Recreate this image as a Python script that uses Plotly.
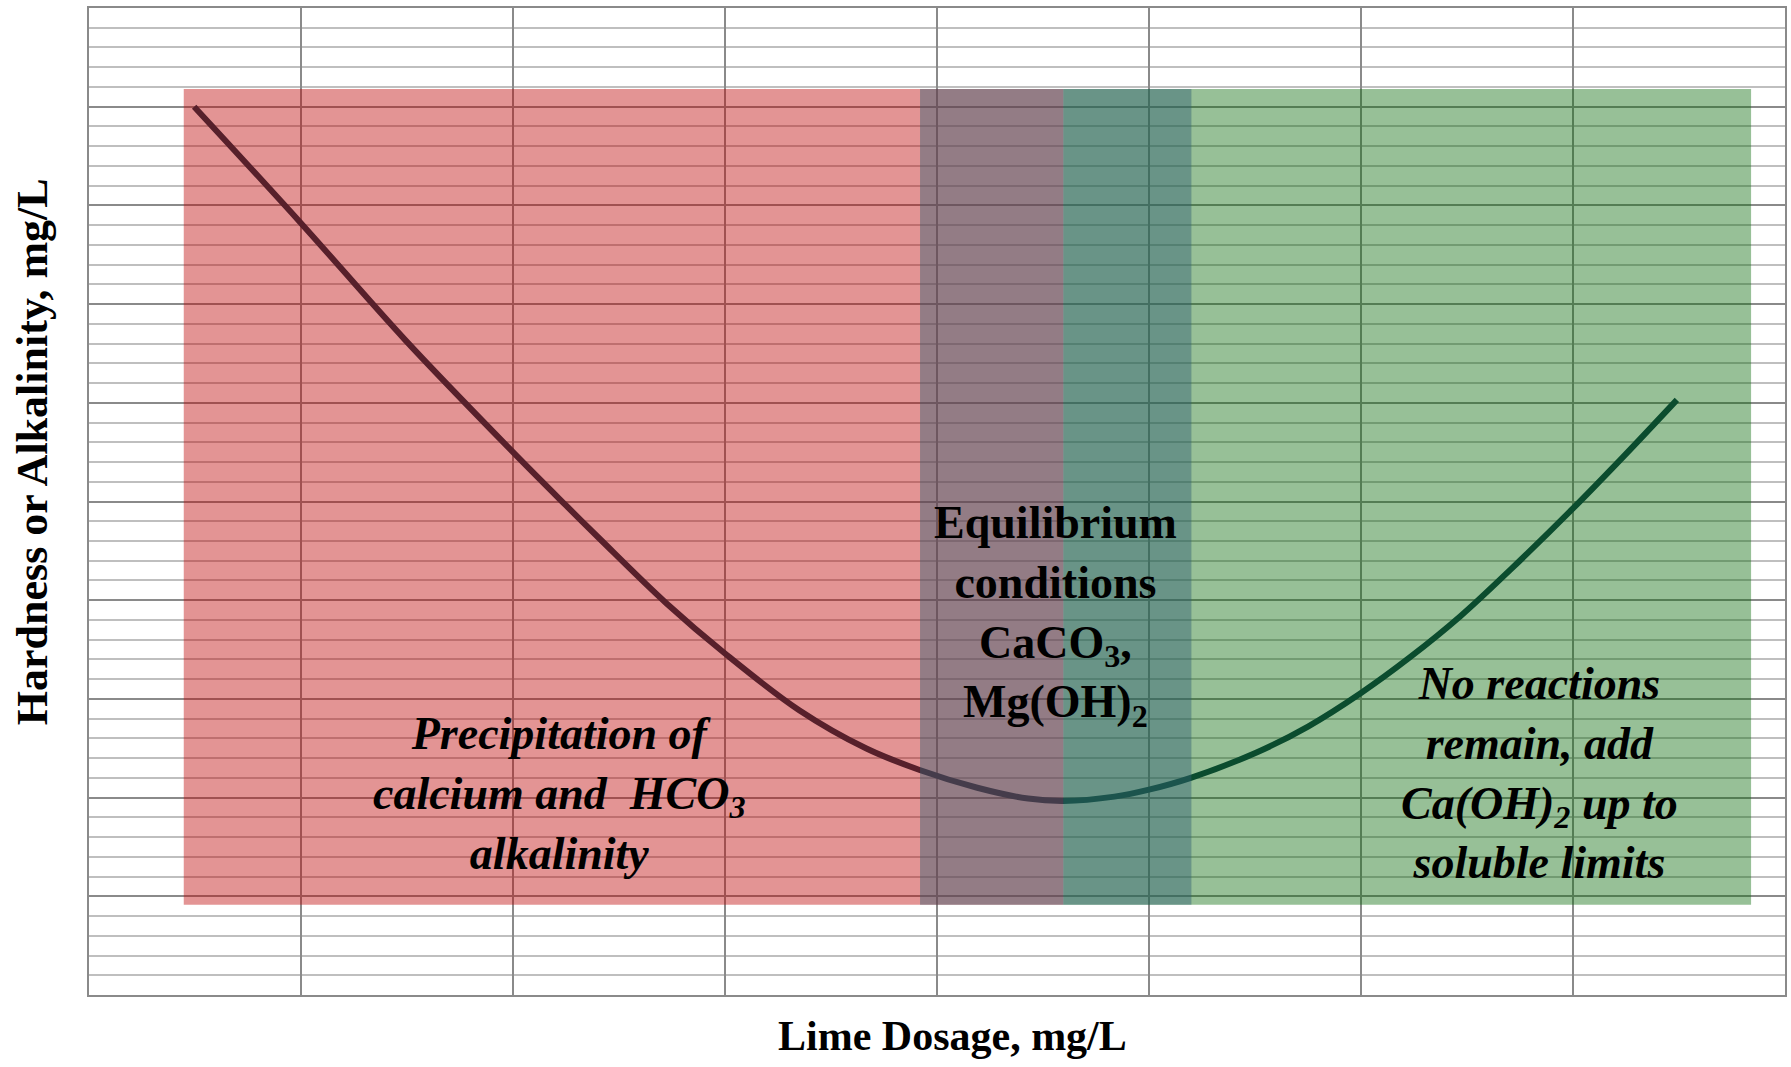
import plotly.graph_objects as go

# Curve: hardness/alkalinity vs lime dosage (grid units)
dose = [0.496, 1.0, 1.49, 2.0, 2.25, 2.41, 2.723, 3.0, 3.35, 3.667, 3.918, 4.19, 4.43, 4.596,
        4.837, 5.0, 5.197, 5.51, 5.75, 6.0, 6.23, 6.47, 6.71, 7.0, 7.24, 7.49]
hardness = [9.0, 7.82, 6.64, 5.50, 4.96, 4.62, 3.97, 3.46, 2.885, 2.497, 2.28, 2.10, 1.99, 1.966,
            2.01, 2.08, 2.20, 2.46, 2.72, 3.06, 3.42, 3.84, 4.32, 4.93, 5.46, 6.03]

# Regions (x0, x1, y0, y1)
region_names = ["precipitation", "no_reaction", "equilibrium"]
region_x0 = [0.447, 4.596, 3.92]
region_x1 = [4.596, 7.84, 5.2]
region_y0 = [0.915, 0.915, 0.915]
region_y1 = [9.18, 9.18, 9.18]
region_colors = ["rgba(190,6,6,0.43)", "rgba(15,108,15,0.43)", "rgba(49,95,115,0.45)"]

# Labels
label_texts = [
    "<i>Precipitation of<br>calcium and  HCO<sub>3</sub><br>alkalinity</i>",
    "Equilibrium<br>conditions<br>CaCO<sub>3</sub>,<br>Mg(OH)<sub>2</sub>",
    "<i>No reactions<br>remain, add<br>Ca(OH)<sub>2</sub> up to<br>soluble limits</i>",
]
label_x = [2.22, 4.56, 6.84]
label_y = [2.04, 3.85, 2.25]

x_title = "Lime Dosage, mg/L"
y_title = "Hardness or Alkalinity, mg/L"

FONT = "Liberation Serif"

fig = go.Figure()
fig.add_trace(go.Scatter(
    x=dose, y=hardness, mode="lines",
    line=dict(color="rgb(9,51,71)", width=6, shape="spline", smoothing=1.0),
    showlegend=False, hoverinfo="skip",
))

for x0, x1, y0, y1, c in zip(region_x0, region_x1, region_y0, region_y1, region_colors):
    fig.add_shape(type="rect", xref="x", yref="y", x0=x0, x1=x1, y0=y0, y1=y1,
                  fillcolor=c, line=dict(width=0), layer="above")

for t, x, y in zip(label_texts, label_x, label_y):
    fig.add_annotation(x=x, y=y, xref="x", yref="y", text="<b>" + t + "</b>",
                       showarrow=False, align="center",
                       font=dict(family=FONT, size=46, color="black"))

# Axis titles (placed as annotations for exact positioning)
fig.add_annotation(x=0.5094, y=-0.0415, xref="paper", yref="paper", text="<b>" + x_title + "</b>",
                   showarrow=False, xanchor="center", yanchor="middle",
                   font=dict(family=FONT, size=42, color="black"))
fig.add_annotation(x=-0.0336, y=0.550, xref="paper", yref="paper", text="<b>" + y_title + "</b>",
                   showarrow=False, xanchor="center", yanchor="middle", textangle=-90,
                   font=dict(family=FONT, size=44, color="black"))

fig.update_xaxes(
    range=[0, 8], dtick=1, tick0=0, showticklabels=False, ticks="",
    showgrid=True, gridcolor="#8a8a8a", gridwidth=1.5,
    showline=True, linecolor="#8a8a8a", linewidth=2, mirror=True, zeroline=False,
    automargin=False,
)
fig.update_yaxes(
    range=[0, 10], dtick=1, tick0=0, showticklabels=False, ticks="",
    showgrid=True, gridcolor="#8a8a8a", gridwidth=1.5,
    minor=dict(dtick=0.2, showgrid=True, gridcolor="#bfbfbf", gridwidth=2),
    showline=True, linecolor="#8a8a8a", linewidth=2, mirror=True, zeroline=False,
    automargin=False,
)
fig.update_layout(
    width=1791, height=1067,
    margin=dict(l=89, r=6, t=8, b=72),
    plot_bgcolor="white", paper_bgcolor="white",
)
fig.write_html("out.html", config={"displayModeBar": False},
               post_script="document.body.style.margin='0px';")
